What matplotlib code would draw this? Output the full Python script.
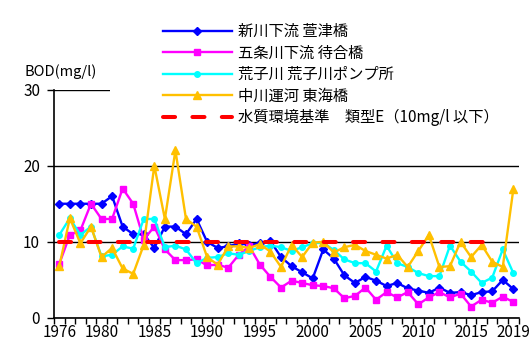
import matplotlib
matplotlib.use("Agg")
import matplotlib.pyplot as plt
from matplotlib.patches import Rectangle
from matplotlib.ticker import FixedLocator

plt.rcParams["font.family"] = ["Noto Sans CJK JP", "DejaVu Sans"]

# ---- data: annual mean BOD (mg/l) ----
years = list(range(1976, 2020))

shinkawa = [15.0, 15.0, 15.0, 15.0, 15.0, 16.0, 12.0, 11.0, 11.0, 9.2,
            12.0, 12.0, 11.0, 13.0, 10.0, 9.2, 9.4, 9.8, 9.6, 9.8,
            10.1, 8.0, 6.8, 6.0, 5.2, 9.0, 7.8, 5.6, 4.6, 5.4,
            4.9, 4.2, 4.6, 3.9, 3.6, 3.3, 4.0, 3.3, 3.4, 3.0,
            3.4, 3.5, 5.0, 3.8]

gojo = [7.1, 10.9, 11.5, 15.0, 13.0, 13.0, 17.0, 15.0, 10.3, 12.0,
        9.0, 7.6, 7.6, 7.7, 6.9, 7.0, 6.6, 8.3, 9.4, 7.0,
        5.4, 4.0, 4.9, 4.6, 4.3, 4.2, 3.9, 2.6, 2.9, 4.0,
        2.4, 3.4, 2.7, 3.4, 1.8, 2.7, 3.4, 2.7, 3.2, 1.5,
        2.4, 2.0, 2.8, 2.1]

arako = [10.9, 13.1, 10.9, 12.0, 8.1, 8.3, 9.4, 9.1, 13.0, 13.0,
         9.3, 9.5, 9.0, 7.2, 7.9, 8.0, 8.5, 8.3, 8.8, 9.3,
         9.5, 9.3, 8.8, 9.3, 9.8, 9.9, 8.9, 7.7, 7.2, 7.2,
         6.1, 9.5, 7.2, 6.7, 5.9, 5.5, 5.5, 9.5, 7.4, 6.1,
         4.6, 5.3, 9.0, 5.9]

nakagawa = [6.8, 13.1, 9.8, 12.0, 8.0, 9.2, 6.5, 5.8, 9.6, 20.0,
            13.0, 22.0, 13.0, 12.0, 8.0, 7.0, 9.4, 9.4, 9.2, 9.7,
            8.7, 6.7, 9.6, 8.0, 9.9, 10.0, 8.6, 9.3, 9.6, 8.8,
            8.3, 7.8, 8.3, 6.7, 8.8, 10.9, 6.7, 6.8, 10.0, 8.0,
            9.6, 7.4, 6.7, 16.9]

std_years = list(range(1976, 2018))
std_values = [10.0] * len(std_years)

labels = ["新川下流 萱津橋", "五条川下流 待合橋", "荒子川 荒子川ポンプ所",
          "中川運河 東海橋", "水質環境基準　類型E（10mg/l 以下）"]
year_ticks = [1976, 1980, 1985, 1990, 1995, 2000, 2005, 2010, 2015, 2019]
y_ticks = [0, 10, 20, 30]

# ---- figure ----
W, H = 529, 343
fig = plt.figure(figsize=(W / 100, H / 100), dpi=100)
ax = fig.add_axes([54 / W, 25 / H, 464.6 / W, 228.5 / H])

lw = 1.7
h1, = ax.plot(years, shinkawa, color="#0000FF", lw=lw, marker="D", ms=4.5)
h2, = ax.plot(years, gojo, color="#FF00FF", lw=lw, marker="s", ms=4.5)
h3, = ax.plot(years, arako, color="#00FFFF", lw=lw, marker="o", ms=4)
h4, = ax.plot(years, nakagawa, color="#FFC000", lw=lw, marker="^", ms=6)
h5, = ax.plot(std_years, std_values, color="#FF0000", lw=2.9,
              dashes=(3, 4.3), dash_capstyle="round")

ax.set_xlim(1975.5, 2019.5)
ax.set_ylim(0, 30)

ax.xaxis.set_major_locator(FixedLocator(year_ticks))
ax.xaxis.set_minor_locator(FixedLocator([y - 0.5 for y in years + [2020]]))
ax.tick_params(axis="x", which="major", length=0, pad=4, labelsize=11)
ax.tick_params(axis="x", which="minor", length=4, width=1, direction="out")
ax.set_yticks(y_ticks)
ax.tick_params(axis="y", length=5, width=1, pad=5, labelsize=11)

ax.grid(axis="y", color="black", lw=1.0)
ax.set_axisbelow(True)
for s in ("top", "right"):
    ax.spines[s].set_visible(False)
for s in ("left", "bottom"):
    ax.spines[s].set_linewidth(1.2)

# white legend background
fig.patches.append(Rectangle((110 / W, 1 - 128 / H), 1 - 110 / W, 128 / H,
                             transform=fig.transFigure, facecolor="white",
                             edgecolor="none", zorder=3))

leg = fig.legend([h1, h2, h3, h4, h5], labels, loc="upper left",
                 bbox_to_anchor=(163 / W, 1 - 23 / H), frameon=False,
                 fontsize=11, handlelength=4.5, handletextpad=0.4,
                 labelspacing=0.3, borderpad=0, borderaxespad=0)
leg.set_zorder(5)

fig.text(24 / W, 1 - 64 / H, "BOD(mg/l)", fontsize=10.5, ha="left", va="top")

fig.savefig("out.png", dpi=100)
